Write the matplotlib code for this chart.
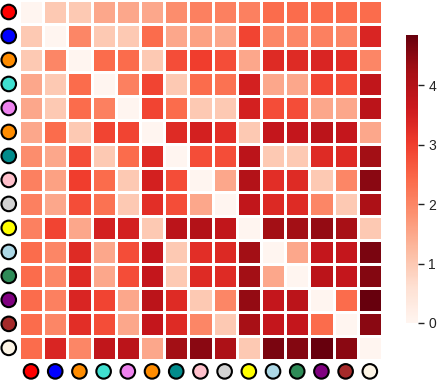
import numpy as np
import matplotlib
matplotlib.use("Agg")
import matplotlib.pyplot as plt
from matplotlib import transforms

plt.rcParams['font.family'] = ['Liberation Sans', 'DejaVu Sans']

# marker colours for each row / column
node_colors = ['red', 'blue', 'darkorange', 'turquoise', 'violet', 'darkorange',
               'darkcyan', 'pink', 'lightgray', 'yellow', 'lightblue', 'seagreen',
               'purple', 'brown', 'oldlace']

# pairwise distances (symmetric)
distances = [
    [0, 1.0, 1.0, 1.5, 1.5, 1.5, 1.9, 2.1, 2.1, 2.1, 2.4, 2.4, 2.4, 2.4, 2.4],
    [1.0, 0, 2.0, 1.0, 1.0, 2.4, 1.5, 1.6, 1.5, 2.9, 2.0, 2.0, 2.1, 2.0, 3.4],
    [1.0, 2.0, 0, 2.4, 2.4, 1.0, 2.8, 3.0, 2.8, 1.5, 3.3, 3.3, 3.4, 3.25, 2.0],
    [1.5, 1.0, 2.4, 0, 2.1, 2.9, 1.0, 2.4, 2.3, 3.5, 1.5, 1.5, 2.9, 2.8, 3.8],
    [1.5, 1.0, 2.4, 2.1, 0, 2.9, 2.4, 1.0, 1.0, 3.5, 2.8, 2.8, 1.5, 1.5, 3.9],
    [1.5, 2.4, 1.0, 2.9, 2.9, 0, 3.3, 3.5, 3.25, 1.0, 3.75, 3.75, 3.9, 3.75, 1.5],
    [1.9, 1.5, 2.8, 1.0, 2.4, 3.3, 0, 2.8, 2.8, 3.9, 1.0, 1.0, 3.3, 3.3, 4.25],
    [2.1, 1.6, 3.0, 2.4, 1.0, 3.5, 2.8, 0, 1.5, 4.0, 3.25, 3.3, 1.0, 2.0, 4.5],
    [2.1, 1.5, 2.8, 2.3, 1.0, 3.25, 2.8, 1.5, 0, 3.8, 3.35, 3.3, 2.0, 1.0, 4.1],
    [2.1, 2.9, 1.5, 3.5, 3.5, 1.0, 3.9, 4.0, 3.8, 0, 4.25, 4.25, 4.4, 4.2, 1.0],
    [2.4, 2.0, 3.3, 1.5, 2.8, 3.75, 1.0, 3.25, 3.35, 4.25, 0, 1.5, 3.75, 3.75, 4.65],
    [2.4, 2.0, 3.3, 1.5, 2.8, 3.75, 1.0, 3.3, 3.3, 4.25, 1.5, 0, 3.9, 3.75, 4.55],
    [2.4, 2.1, 3.4, 2.9, 1.5, 3.9, 3.3, 1.0, 2.0, 4.4, 3.75, 3.9, 0, 2.4, 4.85],
    [2.4, 2.0, 3.25, 2.8, 1.5, 3.75, 3.3, 2.0, 1.0, 4.2, 3.75, 3.75, 2.4, 0, 4.5],
    [2.4, 3.4, 2.0, 3.8, 3.9, 1.5, 4.25, 4.5, 4.1, 1.0, 4.65, 4.55, 4.85, 4.5, 0],
]
cbar_ticks = [0, 1, 2, 3, 4]

data = np.array(distances)
n = len(node_colors)

fig = plt.figure(figsize=(4.4, 3.8), dpi=100)
ax = fig.add_axes([0.043, 0.053, 0.825, 0.947])
cax = fig.add_axes([0.923, 0.15, 0.027, 0.758])

mesh = ax.pcolormesh(data, cmap='Reds', vmin=0, vmax=data.max(),
                     edgecolors='white', linewidth=1.0)
ax.set_xlim(0, n)
ax.set_ylim(n, 0)
ax.set_xticks([])
ax.set_yticks([])
for s in ax.spines.values():
    s.set_visible(False)

# coloured dots instead of tick labels
pos = np.arange(n) + 0.5
ty = transforms.blended_transform_factory(ax.transAxes, ax.transData)
tx = transforms.blended_transform_factory(ax.transData, ax.transAxes)
ax.scatter(np.full(n, -0.028), pos, s=110, c=node_colors, edgecolors='black',
           linewidths=1.5, transform=ty, clip_on=False, zorder=5)
ax.scatter(pos, np.full(n, -0.032), s=110, c=node_colors, edgecolors='black',
           linewidths=1.5, transform=tx, clip_on=False, zorder=5)

cb = fig.colorbar(mesh, cax=cax, ticks=cbar_ticks)
cb.outline.set_visible(False)
cb.ax.tick_params(labelsize=10, length=4, width=1, color='#222222', labelcolor='#222222')

fig.savefig('out.png', dpi=100)
